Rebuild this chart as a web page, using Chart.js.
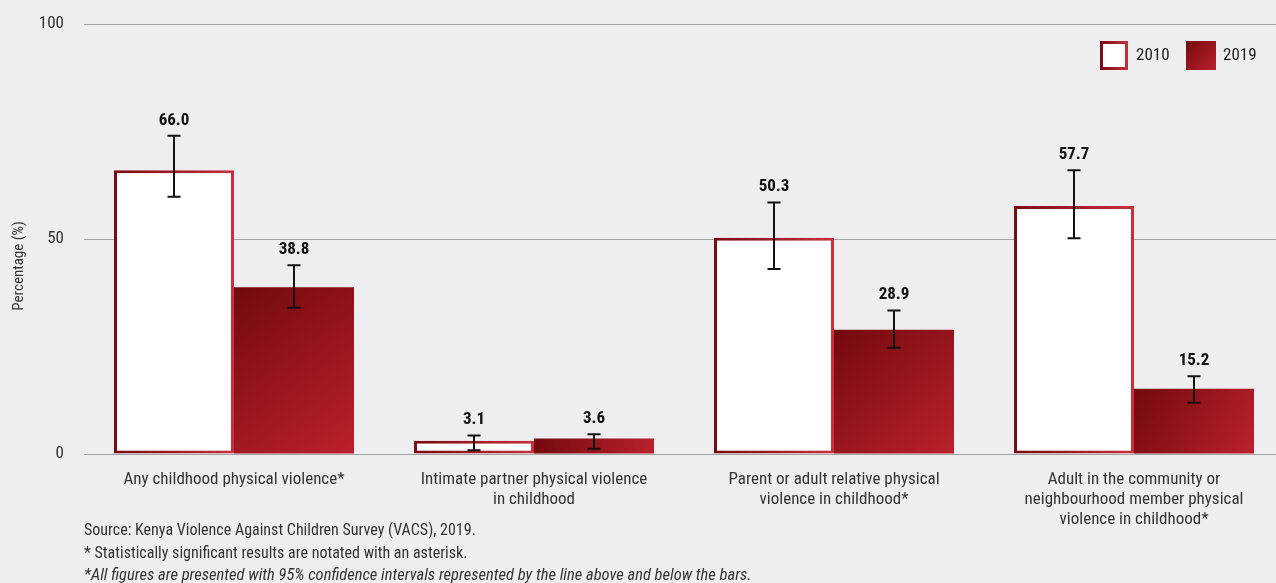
<!DOCTYPE html>
<html>
<head>
<meta charset="utf-8">
<script src="https://cdn.jsdelivr.net/npm/chart.js@4/dist/chart.umd.min.js"></script>
<style>
  html, body { margin: 0; padding: 0; background: #eeeef1; overflow: hidden; }
  #wrap { position: relative; width: 1276px; height: 583px; overflow: hidden; }
  #cv { position: absolute; left: 0; top: 0; }
  .note { position: absolute; left: 84px; font-family: 'Roboto Condensed','Liberation Sans Narrow','Arial Narrow',Roboto,sans-serif; font-size: 16px; color: #333; white-space: nowrap; line-height: 18px; }
</style>
</head>
<body>
<div id="wrap">
  <canvas id="cv" width="1284" height="583" style="width:1284px;height:583px"></canvas>
  <div class="note" style="top:521px">Source: Kenya Violence Against Children Survey (VACS), 2019.</div>
  <div class="note" style="top:544px">* Statistically significant results are notated with an asterisk.</div>
  <div class="note" style="top:566px;font-style:italic;font-size:16.5px">*All figures are presented with 95% confidence intervals represented by the line above and below the bars.</div>
</div>
<script>
const categories = [
  ["Any childhood physical violence*"],
  ["Intimate partner physical violence", "in childhood"],
  ["Parent or adult relative physical", "violence in childhood*"],
  ["Adult in the community or", "neighbourhood member physical", "violence in childhood*"]
];
const seriesNames = ["2010", "2019"];
const values2010 = [66.0, 3.1, 50.3, 57.7];
const values2019 = [38.8, 3.6, 28.9, 15.2];
const ciLow2010  = [59.8, 0.9, 43.0, 50.2];
const ciHigh2010 = [74.0, 4.3, 58.5, 66.0];
const ciLow2019  = [34.0, 1.2, 24.7, 11.9];
const ciHigh2019 = [43.9, 4.6, 33.4, 18.1];
const yTicks = [0, 50, 100];

const FONT = "'Roboto Condensed','Liberation Sans Narrow','Arial Narrow',Roboto,sans-serif";
const ciLow = [ciLow2010, ciLow2019];
const ciHigh = [ciHigh2010, ciHigh2019];

function barGeom(ctx) {
  const chart = ctx.chart;
  const xs = chart.scales.x, ys = chart.scales.y;
  if (!xs || !ys || !chart.chartArea) return null;
  const i = ctx.dataIndex;
  const catW = xs.width / categories.length;
  const bw = catW * 0.8 / 2;
  const c = xs.getPixelForValue(i);
  const left = ctx.datasetIndex === 0 ? c - bw : c;
  const v = ctx.dataset.data[i];
  return { left, right: left + bw, top: ys.getPixelForValue(v), bottom: ys.getPixelForValue(0) };
}

function fill2019(ctx) {
  const g = barGeom(ctx);
  if (!g) return '#9a1820';
  const gr = ctx.chart.ctx.createLinearGradient(g.left, g.top, g.right, g.bottom);
  gr.addColorStop(0, '#730a0e');
  gr.addColorStop(1, '#bb212c');
  return gr;
}
function border2010(ctx) {
  const g = barGeom(ctx);
  if (!g) return '#9a1820';
  const gr = ctx.chart.ctx.createLinearGradient(g.left, 0, g.right, 0);
  gr.addColorStop(0, '#7a0b11');
  gr.addColorStop(1, '#c8303c');
  return gr;
}

const overlay = {
  id: 'overlay',
  afterDatasetsDraw(chart) {
    const c = chart.ctx, ys = chart.scales.y;
    chart.data.datasets.forEach((ds, di) => {
      const meta = chart.getDatasetMeta(di);
      meta.data.forEach((bar, i) => {
        const x = bar.x;
        const yHi = ys.getPixelForValue(ciHigh[di][i]);
        const yLo = ys.getPixelForValue(ciLow[di][i]);
        c.save();
        c.strokeStyle = '#111';
        c.lineWidth = 2;
        c.beginPath();
        c.moveTo(x, yHi); c.lineTo(x, yLo);
        c.moveTo(x - 6.5, yHi); c.lineTo(x + 6.5, yHi);
        c.moveTo(x - 6.5, yLo); c.lineTo(x + 6.5, yLo);
        c.stroke();
        c.fillStyle = '#111';
        c.font = 'bold 17px ' + FONT;
        c.textAlign = 'center';
        c.textBaseline = 'bottom';
        c.fillText(ds.data[i].toFixed(1), x, yHi - 7);
        c.restore();
      });
    });
  },
  afterDraw(chart) {
    const c = chart.ctx;
    c.save();
    c.translate(19, 266);
    c.rotate(-Math.PI / 2);
    c.fillStyle = '#333';
    c.font = '15px ' + FONT;
    c.textAlign = 'center';
    c.textBaseline = 'middle';
    c.fillText('Percentage (%)', 0, 0);
    c.restore();
    c.save();
    const boxY = 41, boxS = 28;
    let gr = c.createLinearGradient(1100, 0, 1128, 0);
    gr.addColorStop(0, '#7a0b11'); gr.addColorStop(1, '#c8303c');
    c.fillStyle = gr;
    c.fillRect(1100, boxY, boxS, boxS + 1);
    c.fillStyle = '#ffffff';
    c.fillRect(1103, boxY + 3, boxS - 6, boxS - 5);
    gr = c.createLinearGradient(1186, boxY, 1216, boxY + boxS);
    gr.addColorStop(0, '#730a0e'); gr.addColorStop(1, '#bb212c');
    c.fillStyle = gr;
    c.fillRect(1186, boxY, 30, boxS + 1);
    c.fillStyle = '#222';
    c.font = '17px ' + FONT;
    c.textAlign = 'left';
    c.textBaseline = 'middle';
    c.fillText(seriesNames[0], 1136, 56);
    c.fillText(seriesNames[1], 1223, 56);
    c.restore();
  }
};

new Chart(document.getElementById('cv'), {
  type: 'bar',
  data: {
    labels: categories,
    datasets: [
      { label: seriesNames[0], data: values2010, backgroundColor: '#ffffff', borderColor: border2010, borderWidth: 3, borderSkipped: false },
      { label: seriesNames[1], data: values2019, backgroundColor: fill2019, borderWidth: 0 }
    ]
  },
  options: {
    responsive: false,
    animation: false,
    devicePixelRatio: 1,
    layout: { padding: { top: 24, left: 0, right: 0, bottom: 0 } },
    categoryPercentage: 0.8,
    barPercentage: 1.0,
    plugins: { legend: { display: false }, tooltip: { enabled: false } },
    scales: {
      x: {
        grid: { display: false },
        border: { display: false },
        ticks: { color: '#333', font: { family: FONT, size: 17, lineHeight: 1.18 }, padding: 8, maxRotation: 0, autoSkip: false },
        afterFit(s) { s.height = 129; s.paddingLeft = 0; s.paddingRight = 0; }
      },
      y: {
        min: 0, max: 100,
        afterBuildTicks(s) { s.ticks = yTicks.map(v => ({ value: v })); },
        grid: { color: '#a3a3a3', lineWidth: 1, drawTicks: false },
        border: { display: false },
        ticks: { color: '#333', font: { family: FONT, size: 17 }, padding: 20 },
        afterFit(s) { s.width = 84; s.paddingTop = 0; s.paddingBottom = 0; }
      }
    }
  },
  plugins: [overlay]
});
</script>
</body>
</html>
